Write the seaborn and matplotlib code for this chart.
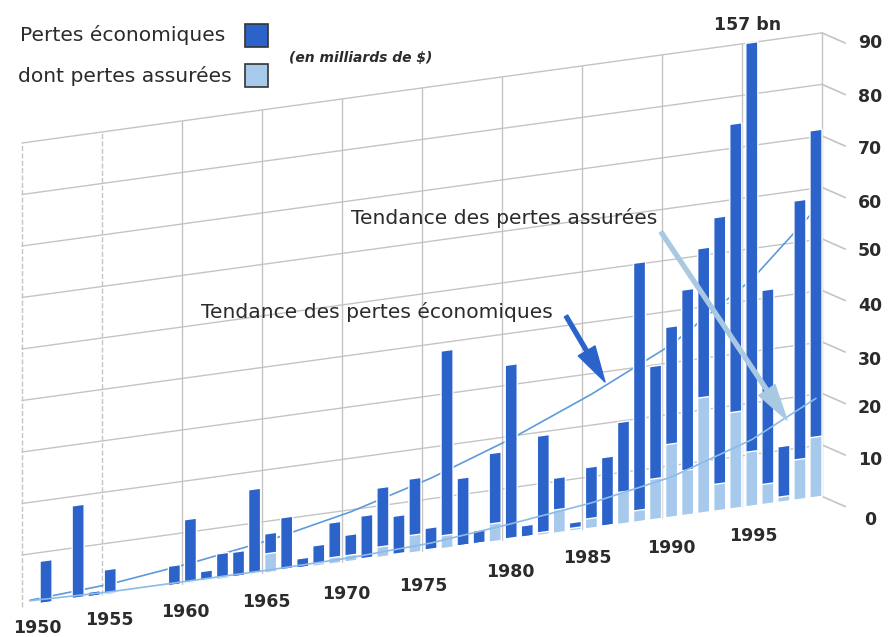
import matplotlib
matplotlib.use('Agg')
import matplotlib.pyplot as plt
import seaborn as sns
import pandas as pd
from matplotlib.transforms import Affine2D

# pertes par annee, 1950-1999 (en milliards de $)
annees = list(range(1950, 2000))
pertes_eco = [0, 8.3, 0, 18.2, 1.0, 4.9, 0, 0, 0, 3.9,
              12.5, 2.0, 5.0, 4.9, 16.6, 7.6, 10.3, 1.9, 4.0, 8.0,
              5.2, 8.5, 13.5, 7.6, 14.4, 4.4, 38.4, 13.2, 2.6, 17.2,
              33.9, 2.3, 19.3, 10.7, 1.6, 11.9, 13.4, 19.8, 50.3, 29.8,
              37.0, 43.8, 51.4, 57.0, 74.7, 90.0, 41.6, 10.8, 58.1, 71.3]
pertes_ass = [0, 0.1, 0, 0.2, 0.1, 0.4, 0, 0, 0, 0.1,
              0.3, 0.3, 0.4, 0.1, 0.3, 3.7, 0.2, 0.1, 0.5, 1.2,
              1.2, 0.2, 2.0, 0.2, 3.4, 0.2, 2.5, 0.1, 0.1, 3.5,
              0.2, 0.1, 0.5, 4.5, 0.5, 1.9, 0.1, 6.2, 2.2, 7.9,
              14.2, 8.7, 22.4, 5.2, 18.7, 10.6, 3.9, 1.0, 7.8, 11.7]

# courbes de tendance, une valeur tous les 5 ans
annees_tendance = [1950, 1955, 1960, 1965, 1970, 1975, 1980, 1985, 1990, 1995, 1999]
tendance_eco = [1.0, 2.0, 3.9, 6.3, 9.6, 14.0, 19.5, 26.0, 33.5, 44.0, 56.0]
tendance_ass = [0.9, 0.5, 0.5, 0.5, 0.7, 1.4, 3.0, 4.9, 7.8, 12.9, 19.2]

labels_annees = ['1950', '1955', '1960', '1965', '1970', '1975', '1980', '1985', '1990', '1995']
labels_valeurs = ['0', '10', '20', '30', '40', '50', '60', '70', '80', '90']

BLEU = '#2c63cb'
BLEU_CLAIR = '#a6c9ec'
GRIS = '#c4c4c4'
TEXTE = '#2b2b2b'

W, H = 888, 637
sns.set_theme(style='white')
plt.rcParams['font.family'] = ['DejaVu Sans']

fig = plt.figure(figsize=(W / 100, H / 100), dpi=100)
ax = fig.add_axes([22 / W, 0, 802 / W, 1])

df = pd.DataFrame({'annee': annees, 'eco': pertes_eco, 'ass': pertes_ass})
df_t = pd.DataFrame({'pos': [a - 1950 for a in annees_tendance], 'eco': tendance_eco, 'ass': tendance_ass})

sns.barplot(data=df, x='annee', y='eco', color=BLEU, saturation=1, width=0.75, ax=ax, zorder=3)
sns.barplot(data=df, x='annee', y='ass', color=BLEU_CLAIR, saturation=1, width=0.75, ax=ax, zorder=4)
sns.lineplot(data=df_t, x='pos', y='eco', color='#5c9bdc', lw=1.2, estimator=None, sort=False, ax=ax, zorder=2)
sns.lineplot(data=df_t, x='pos', y='ass', color='#8dbbe8', lw=1.2, estimator=None, sort=False, ax=ax, zorder=5)

# grille (les barres sont un peu plus espacees que les cases)
echelle = 5.15  # px par unite
pente = 0.138 * 16 / echelle  # montee par annee, en unites
x_fin = 800 / 16.04 - 0.5
for v in range(10, 100, 10):
    ax.plot([-0.5, x_fin], [v, v], color=GRIS, lw=1, zorder=1)
for i in range(11):
    xg = -0.5 + i * (x_fin + 0.5) / 10
    ax.plot([xg, xg], [0, 90], color=GRIS, lw=1, zorder=1, ls='--' if i < 2 else '-')
# petits traits vers les labels a droite
for v in range(0, 100, 10):
    ax.plot([x_fin, x_fin + 1.45], [v, v - 2.6], color=GRIS, lw=1.2, zorder=1)

# tout est cisaille pour donner l'effet de perspective
shear = Affine2D.from_values(1, pente, 0, 1, 0, pente * 0.5)
for artist in list(ax.patches) + list(ax.lines):
    artist.set_transform(shear + ax.transData)
    artist.set_clip_on(False)

ax.set_xlim(-0.5, 49.5)
ax.set_ylim(-(H - 606.5) / echelle, 606.5 / echelle)
ax.axis('off')


def txt(x, y, s, **kw):
    kw.setdefault('ha', 'center')
    kw.setdefault('va', 'center')
    kw.setdefault('color', TEXTE)
    fig.text(x / W, 1 - y / H, s, **kw)


def fleche(x0, y0, x1, y1, couleur):
    ax.annotate('', xy=(x1 / W, 1 - y1 / H), xytext=(x0 / W, 1 - y0 / H),
                xycoords='figure fraction', textcoords='figure fraction',
                arrowprops=dict(width=2.8, headwidth=14, headlength=26,
                                color=couleur, shrink=0), zorder=6)


# labels des axes
for s, (x, y) in zip(labels_annees, [(37, 628), (109, 620), (185, 612), (266, 602), (346, 594),
                                     (423, 586), (510, 572), (587, 558), (671, 548), (753, 536)]):
    txt(x, y, s, fontsize=12.5, fontweight='bold')
for s, y in zip(labels_valeurs, [520, 460, 408, 360, 306, 251, 203, 149, 97, 43]):
    txt(870, y, s, fontsize=12.5, fontweight='bold')

txt(748, 25, '157 bn', fontsize=12.5, fontweight='bold')
txt(123, 35, 'Pertes économiques', fontsize=14.6)
txt(125, 76, 'dont pertes assurées', fontsize=14.6)
txt(361, 58, '(en milliards de $)', fontsize=10, fontweight='bold', style='italic')
txt(504, 218, 'Tendance des pertes assurées', fontsize=14.6)
txt(377, 312, 'Tendance des pertes économiques', fontsize=14.6)

# legende
for y0, c in [(24, BLEU), (64, BLEU_CLAIR)]:
    fig.patches.append(plt.Rectangle((245 / W, 1 - (y0 + 23) / H), 23 / W, 23 / H, transform=fig.transFigure,
                                     facecolor=c, edgecolor='#333333', lw=1.2))

fleche(566, 316, 605, 382, BLEU)
fleche(661, 232, 787, 420, '#a9c8e2')

fig.savefig('out.png', dpi=100, facecolor='white')
